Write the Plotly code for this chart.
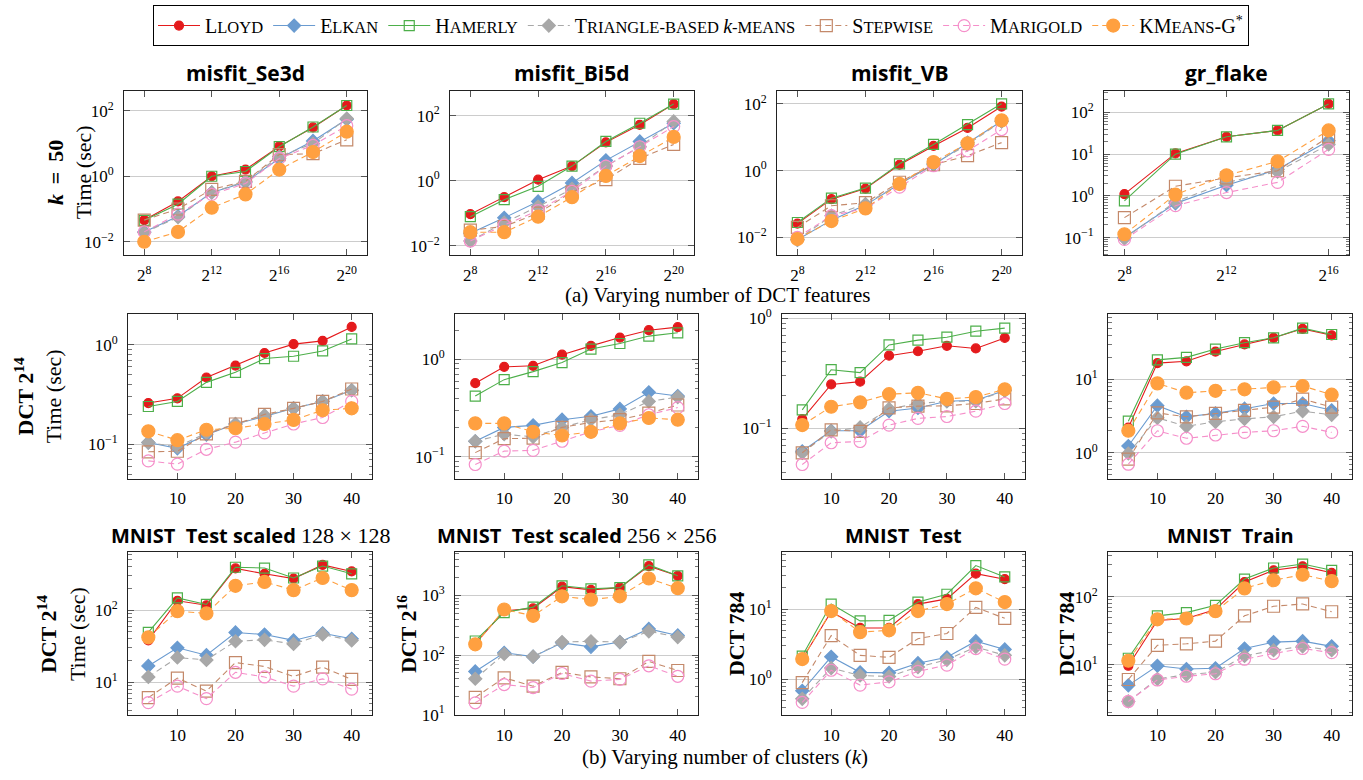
import math
import plotly.graph_objects as go

W, H = 1363, 780

# ---------------- data ----------------
algos = ["Lloyd", "Elkan", "Hamerly", "Triangle", "Stepwise", "Marigold", "KMeansG"]

SC = "<span style='font-size:16.5px'>%s</span>"

def sc(big, small):
    return big + SC % small

legend_names = [sc("L", "LOYD"), sc("E", "LKAN"), sc("H", "AMERLY"),
                sc("T", "RIANGLE-BASED ") + "<i>k</i>" + SC % "-MEANS",
                sc("S", "TEPWISE"), sc("M", "ARIGOLD"),
                "KM" + SC % "EANS" + "-G<sup>*</sup>"]

features_a = [256, 1024, 4096, 16384, 65536, 262144, 1048576]
features_gr = [256, 1024, 4096, 16384, 65536]
clusters = [5, 10, 15, 20, 25, 30, 35, 40]

se3d_feat = dict(
    Lloyd=[0.046, 0.17, 1.0, 1.6, 8.2, 31, 145],
    Elkan=[0.02, 0.06, 0.32, 0.66, 3.5, 12, 55],
    Hamerly=[0.045, 0.14, 1.0, 1.4, 8.0, 32, 145],
    Triangle=[0.019, 0.056, 0.32, 0.7, 4.0, 10, 58],
    Stepwise=[0.046, 0.1, 0.4, 0.7, 4.6, 4.9, 13],
    Marigold=[0.02, 0.07, 0.28, 0.6, 3.5, 8.8, 35],
    KMeansG=[0.01, 0.02, 0.11, 0.28, 1.6, 5.5, 23],
)
bi5d_feat = dict(
    Lloyd=[0.093, 0.31, 1.07, 2.8, 15, 52, 225],
    Elkan=[0.024, 0.072, 0.23, 0.85, 4.2, 16, 58],
    Hamerly=[0.078, 0.26, 0.67, 2.8, 16, 58, 225],
    Triangle=[0.014, 0.051, 0.16, 0.56, 2.8, 11, 66],
    Stepwise=[0.03, 0.039, 0.1, 0.45, 1.07, 4.8, 13],
    Marigold=[0.014, 0.043, 0.12, 0.47, 2.8, 11, 46],
    KMeansG=[0.026, 0.026, 0.078, 0.31, 1.4, 5.7, 22],
)
vb_feat = dict(
    Lloyd=[0.026, 0.14, 0.29, 1.5, 5.5, 19, 83],
    Elkan=[0.0085, 0.033, 0.093, 0.4, 1.5, 6.9, 30],
    Hamerly=[0.028, 0.15, 0.3, 1.6, 6.1, 24, 100],
    Triangle=[0.0085, 0.045, 0.1, 0.4, 1.6, 6.0, 30],
    Stepwise=[0.02, 0.089, 0.11, 0.45, 1.5, 2.8, 6.9],
    Marigold=[0.01, 0.045, 0.074, 0.32, 1.4, 3.9, 17],
    KMeansG=[0.009, 0.031, 0.074, 0.4, 1.8, 6.6, 32],
)
gr_feat = dict(
    Lloyd=[1.1, 10.4, 26, 37, 160],
    Elkan=[0.1, 0.66, 1.8, 4.3, 21],
    Hamerly=[0.76, 10, 26, 37, 160],
    Triangle=[0.095, 0.72, 2.1, 3.8, 17],
    Stepwise=[0.3, 1.7, 2.7, 4.0, 26],
    Marigold=[0.09, 0.58, 1.2, 2.1, 13],
    KMeansG=[0.12, 1.07, 3.1, 6.7, 37],
)
se3d_k = dict(
    Lloyd=[0.26, 0.29, 0.47, 0.62, 0.83, 1.02, 1.1, 1.52],
    Elkan=[0.104, 0.091, 0.125, 0.16, 0.19, 0.23, 0.27, 0.35],
    Hamerly=[0.24, 0.27, 0.42, 0.53, 0.73, 0.77, 0.87, 1.15],
    Triangle=[0.104, 0.094, 0.13, 0.16, 0.195, 0.23, 0.27, 0.35],
    Stepwise=[0.084, 0.085, 0.127, 0.16, 0.2, 0.23, 0.27, 0.36],
    Marigold=[0.068, 0.063, 0.089, 0.105, 0.13, 0.16, 0.186, 0.27],
    KMeansG=[0.135, 0.11, 0.14, 0.145, 0.16, 0.176, 0.22, 0.23],
)
bi5d_k = dict(
    Lloyd=[0.57, 0.84, 0.86, 1.12, 1.38, 1.68, 2.0, 2.15],
    Elkan=[0.144, 0.2, 0.21, 0.24, 0.26, 0.31, 0.46, 0.42],
    Hamerly=[0.42, 0.62, 0.75, 0.93, 1.28, 1.46, 1.74, 1.88],
    Triangle=[0.144, 0.17, 0.16, 0.2, 0.24, 0.27, 0.37, 0.41],
    Stepwise=[0.11, 0.153, 0.155, 0.2, 0.225, 0.24, 0.28, 0.34],
    Marigold=[0.083, 0.114, 0.116, 0.144, 0.18, 0.21, 0.27, 0.32],
    KMeansG=[0.22, 0.22, 0.18, 0.165, 0.18, 0.22, 0.25, 0.24],
)
vb_k = dict(
    Lloyd=[0.121, 0.25, 0.265, 0.456, 0.5, 0.56, 0.53, 0.66],
    Elkan=[0.062, 0.095, 0.095, 0.143, 0.153, 0.176, 0.18, 0.22],
    Hamerly=[0.147, 0.34, 0.32, 0.57, 0.63, 0.67, 0.76, 0.81],
    Triangle=[0.06, 0.094, 0.102, 0.15, 0.168, 0.176, 0.176, 0.22],
    Stepwise=[0.06, 0.097, 0.094, 0.153, 0.159, 0.16, 0.168, 0.185],
    Marigold=[0.047, 0.074, 0.076, 0.107, 0.123, 0.128, 0.143, 0.168],
    KMeansG=[0.107, 0.157, 0.172, 0.204, 0.21, 0.185, 0.192, 0.226],
)
gr_k = dict(
    Lloyd=[2.2, 16.7, 17.7, 24, 30, 37, 49, 40],
    Elkan=[1.24, 4.4, 3.1, 3.45, 4.0, 4.7, 4.7, 3.8],
    Hamerly=[2.7, 18.5, 20, 26, 31.7, 37, 50, 41],
    Triangle=[0.98, 3.0, 2.3, 2.65, 2.9, 3.1, 3.7, 3.3],
    Stepwise=[0.82, 3.5, 3.1, 3.45, 3.8, 4.2, 5.4, 4.2],
    Marigold=[0.7, 2.0, 1.58, 1.75, 1.9, 2.0, 2.3, 1.9],
    KMeansG=[2.0, 8.85, 6.6, 7.0, 7.35, 7.8, 8.15, 6.2],
)
mnist128_k = dict(
    Lloyd=[38, 135, 117, 380, 320, 275, 425, 345],
    Elkan=[16.8, 30, 23.7, 49, 45.8, 38, 47.7, 40],
    Hamerly=[49, 148, 120, 395, 385, 280, 410, 320],
    Triangle=[11.8, 22, 20.3, 37, 38.7, 34, 46, 38],
    Stepwise=[6.1, 11.4, 7.5, 18.7, 16.5, 12, 16.2, 10.9],
    Marigold=[5.2, 8.8, 5.9, 13.7, 11.8, 8.8, 11.1, 8.0],
    KMeansG=[42, 97, 90, 218, 247, 190, 280, 190],
)
mnist256_k = dict(
    Lloyd=[155, 550, 605, 1400, 1240, 1350, 3100, 2130],
    Elkan=[53, 109, 94, 160, 137, 165, 274, 213],
    Hamerly=[172, 515, 635, 1450, 1290, 1350, 3250, 2130],
    Triangle=[40, 104, 94, 165, 170, 165, 250, 200],
    Stepwise=[19.5, 41.5, 30, 51, 43, 40, 78, 55],
    Marigold=[15.8, 32, 28.5, 49, 36.5, 39, 66, 44],
    KMeansG=[151, 580, 455, 965, 850, 965, 1920, 1320],
)
mnist_test_k = dict(
    Lloyd=[1.95, 9.2, 5.4, 5.4, 11.8, 14, 32, 26.7],
    Elkan=[0.69, 2.1, 1.26, 1.24, 1.7, 2.06, 3.5, 2.67],
    Hamerly=[2.15, 11.8, 6.8, 6.9, 12.6, 16.3, 41.7, 28.7],
    Triangle=[0.53, 1.45, 1.14, 1.1, 1.5, 1.9, 2.9, 2.2],
    Stepwise=[0.9, 4.2, 2.2, 2.06, 3.8, 4.5, 10.6, 7.4],
    Marigold=[0.47, 1.35, 0.83, 0.92, 1.3, 1.6, 2.75, 1.94],
    KMeansG=[1.95, 9.4, 4.7, 5.0, 9.4, 11.8, 19.8, 12.6],
)
mnist_train_k = dict(
    Lloyd=[9.7, 45, 48, 65, 165, 245, 280, 225],
    Elkan=[5.0, 9.7, 8.7, 8.9, 17.4, 21.6, 22.3, 18.7],
    Hamerly=[12.5, 52.5, 58.5, 75, 182, 265, 303, 245],
    Triangle=[2.9, 6.2, 7.2, 7.8, 13.5, 16.4, 18.7, 16.4],
    Stepwise=[6.1, 19.4, 20.4, 22.3, 52.5, 72.6, 78.5, 60.3],
    Marigold=[2.9, 6.0, 6.8, 7.4, 12.1, 14.7, 17.4, 15.1],
    KMeansG=[11.5, 46.7, 48, 61.6, 133, 175, 211, 170],
)

# ---------------- styles ----------------
styles = {
    "Lloyd":    dict(color="#e41a1c", dash="solid", symbol="circle", size=9),
    "Elkan":    dict(color="#6a9bd0", dash="solid", symbol="diamond", size=10),
    "Hamerly":  dict(color="#4daf4a", dash="solid", symbol="square-open", size=10),
    "Triangle": dict(color="#a8a8a8", dash="6px,4px", symbol="diamond", size=10),
    "Stepwise": dict(color="#c4896a", dash="6px,4px", symbol="square-open", size=12),
    "Marigold": dict(color="#f58fca", dash="6px,4px", symbol="circle-open", size=12),
    "KMeansG":  dict(color="#ffa040", dash="6px,4px", symbol="circle", size=13),
}

SERIF = "Liberation Serif"
SANS_B = "Open Sans"

fig = go.Figure()

def px_x(a, b):
    return [a / W, b / W]

def px_y(top, bottom):
    return [1 - bottom / H, 1 - top / H]

L2 = math.log10(2)
cols_r1 = [(124, 367), (450, 694), (777, 1022), (1104, 1349)]
cols_r23 = [(128, 372), (455, 698), (782, 1025), (1108, 1352)]
rows = [(85, 253), (313, 481), (556, 723)]

panels = [
    # (data, xs, row, col, yrange, ystep, minor, xkind)
    (se3d_feat, features_a, 0, 0, (-2.42, 2.6), 2, False, "feat20"),
    (bi5d_feat, features_a, 0, 1, (-2.3, 2.75), 2, False, "feat20"),
    (vb_feat, features_a, 0, 2, (-2.54, 2.38), 2, False, "feat20"),
    (gr_feat, features_gr, 0, 3, (-1.43, 2.51), 1, True, "feat16"),
    (se3d_k, clusters, 1, 0, (-1.345, 0.31), 1, True, "k"),
    (bi5d_k, clusters, 1, 1, (-1.225, 0.466), 1, True, "k"),
    (vb_k, clusters, 1, 2, (-1.455, 0.035), 1, True, "k"),
    (gr_k, clusters, 1, 3, (-0.35, 1.89), 1, True, "k"),
    (mnist128_k, clusters, 2, 0, (0.54, 2.81), 1, True, "k"),
    (mnist256_k, clusters, 2, 1, (0.99, 3.73), 1, True, "k"),
    (mnist_test_k, clusters, 2, 2, (-0.51, 1.815), 1, True, "k"),
    (mnist_train_k, clusters, 2, 3, (0.26, 2.66), 1, True, "k"),
]

tickfont = dict(family=SERIF, size=17, color="black")
layout_axes = {}
for i, (data, xs, r, c, yr, ystep, minor, xkind) in enumerate(panels):
    n = i + 1
    xa = f"x{n}" if n > 1 else "x"
    ya = f"y{n}" if n > 1 else "y"
    for j, a in enumerate(algos):
        s = styles[a]
        fig.add_trace(go.Scatter(
            x=xs, y=data[a], xaxis=xa, yaxis=ya, mode="lines+markers",
            name=legend_names[j], legendgroup=a, showlegend=(i == 0),
            line=dict(color=s["color"], width=1.1, dash=s["dash"]),
            marker=dict(symbol=s["symbol"], size=s["size"], color=s["color"],
                        line=dict(color=s["color"], width=1.2)),
        ))
    cols = cols_r1 if r == 0 else cols_r23
    x0, x1 = cols[c]
    t0, b0 = rows[r]
    if xkind == "feat20":
        xaxis = dict(type="log", range=[6.8 * L2, 21.2 * L2],
                     tickvals=[2**8, 2**12, 2**16, 2**20],
                     ticktext=["2<sup>8</sup>", "2<sup>12</sup>", "2<sup>16</sup>", "2<sup>20</sup>"])
    elif xkind == "feat16":
        xaxis = dict(type="log", range=[7.2 * L2, 16.8 * L2],
                     tickvals=[2**8, 2**12, 2**16],
                     ticktext=["2<sup>8</sup>", "2<sup>12</sup>", "2<sup>16</sup>"])
    else:
        xaxis = dict(range=[1.5, 43.5], tickvals=[10, 20, 30, 40], ticktext=["10", "20", "30", "40"])
    xaxis.update(domain=px_x(x0, x1), anchor=ya, showgrid=False, zeroline=False,
                 showline=True, linecolor="#222", linewidth=1, mirror="ticks",
                 ticks="inside", ticklen=6, tickcolor="#555", tickfont=tickfont,
                 ticklabelstandoff=4)
    lo, hi = yr
    decs = [d for d in range(math.floor(lo), math.ceil(hi) + 1) if lo - 1e-9 <= d <= hi + 1e-9 and d % ystep == 0]
    tv = [10.0 ** d for d in decs]
    tt = [("10<sup>%s</sup>" % (str(d) if d >= 0 else "\u2212" + str(-d))) for d in decs]
    yaxis = dict(type="log", range=[lo, hi], domain=px_y(t0, b0), anchor=xa,
                 tickmode="array", tickvals=tv, ticktext=tt, tickfont=tickfont,
                 showgrid=True, gridcolor="#cccccc", gridwidth=1, zeroline=False,
                 showline=True, linecolor="#222", linewidth=1, mirror="ticks",
                 ticks="inside", ticklen=6, tickcolor="#555", ticklabelstandoff=6)
    if minor:
        mv = []
        for d in range(math.floor(lo), math.ceil(hi) + 1):
            for m in range(2, 10):
                v = m * 10.0 ** d
                if lo <= math.log10(v) <= hi:
                    mv.append(v)
        yaxis["minor"] = dict(tickmode="array", tickvals=mv, ticks="inside", ticklen=3.5,
                              tickcolor="#777", showgrid=False)
    layout_axes["xaxis" if n == 1 else f"xaxis{n}"] = xaxis
    layout_axes["yaxis" if n == 1 else f"yaxis{n}"] = yaxis

fig.update_layout(**layout_axes)

ann = []
def add_text(text, x, y, size, family=SERIF, angle=0, xanchor="center", yanchor="middle"):
    ann.append(dict(text=text, x=x / W, y=1 - y / H, xref="paper", yref="paper",
                    showarrow=False, textangle=angle, xanchor=xanchor, yanchor=yanchor,
                    font=dict(family=family, size=size, color="black")))

# column titles (row 1)
titles_r1 = ["misfit_Se3d", "misfit_Bi5d", "misfit_VB", "gr_flake"]
for (x0, x1), t in zip(cols_r1, titles_r1):
    add_text("<b>%s</b>" % t, (x0 + x1) / 2, 66, 21, SANS_B)

# row 3 titles
num = "<span style='font-family:Liberation Serif;font-weight:normal;font-size:22px'>%s</span>"
titles_r3 = ["<b>MNIST\u00a0\u00a0Test scaled</b> " + num % "128 \u00d7 128",
             "<b>MNIST\u00a0\u00a0Test scaled</b> " + num % "256 \u00d7 256",
             "<b>MNIST\u00a0\u00a0Test</b>",
             "<b>MNIST\u00a0\u00a0Train</b>"]
for (x0, x1), t in zip(cols_r23, titles_r3):
    add_text(t, (x0 + x1) / 2, 539, 20, SANS_B)

# y-axis labels
add_text("<b><i>k</i> \u2009=\u2009 50</b><br>Time (sec)", 70, 168, 22, angle=-90)
add_text("<b>DCT 2<sup>14</sup></b><br>Time (sec)", 38, 397, 22, angle=-90)
add_text("<b>DCT 2<sup>14</sup></b><br>Time (sec)", 61, 640, 22, angle=-90)
add_text("<b>DCT 2<sup>16</sup></b>", 407, 640, 22, angle=-90)
add_text("<b>DCT 784</b>", 736, 640, 22, angle=-90)
add_text("<b>DCT 784</b>", 1066, 640, 22, angle=-90)

# captions
add_text("(a) Varying number of DCT features", 718, 293, 21)
add_text("(b) Varying number of clusters (<i>k</i>)", 725, 766, 21)

fig.update_layout(
    width=W, height=H, margin=dict(l=0, r=0, t=0, b=0),
    paper_bgcolor="white", plot_bgcolor="white",
    annotations=ann,
    legend=dict(orientation="h", x=701 / W, xanchor="center", y=1 + 3 / H, yanchor="top",
                bordercolor="black", borderwidth=1, bgcolor="white",
                font=dict(family=SERIF, size=20, color="black"),
                itemwidth=42, tracegroupgap=0),
)

fig.write_html("out.html", config={"displayModeBar": False},
               post_script="document.body.style.margin='0';document.body.style.overflow='hidden';")
